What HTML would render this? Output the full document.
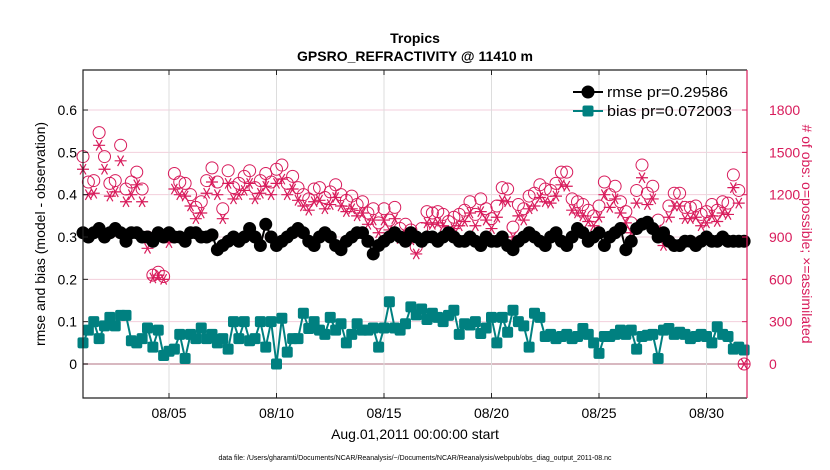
<!DOCTYPE html>
<html><head><meta charset="utf-8"><style>
html,body{margin:0;padding:0;background:#fff;}
svg{display:block;font-family:"Liberation Sans",Arial,sans-serif;}
</style></head><body>
<svg id="chart" width="830" height="470" viewBox="0 0 830 470">
<text x="415" y="43" text-anchor="middle" font-size="14" font-weight="bold">Tropics</text>
<text x="415" y="61" text-anchor="middle" font-size="14" font-weight="bold">GPSRO_REFRACTIVITY @ 11410 m</text>
<g id="grid"></g>
<g id="series"></g>
<g id="axes"></g>
<text transform="translate(45,234) rotate(-90)" text-anchor="middle" font-size="14">rmse and bias (model - observation)</text>
<text transform="translate(802,234) rotate(90)" text-anchor="middle" font-size="14" fill="#d81b5b"># of obs: o=possible; ×=assimilated</text>
<text x="415" y="439" text-anchor="middle" font-size="14">Aug.01,2011 00:00:00 start</text>
<text x="415" y="460" text-anchor="middle" font-size="7">data file: /Users/gharamti/Documents/NCAR/Reanalysis/~/Documents/NCAR/Reanalysis/webpub/obs_diag_output_2011-08.nc</text>
<g id="legend">
<g>
<line x1="573" y1="92" x2="603" y2="92" stroke="#000" stroke-width="2"/>
<circle cx="588" cy="92" r="6.5" fill="#000"/>
<text x="607" y="97" font-size="15" textLength="121" lengthAdjust="spacingAndGlyphs">rmse pr=0.29586</text></g>
<g>
<line x1="573" y1="111" x2="603" y2="111" stroke="#008080" stroke-width="2"/>
<rect x="582.5" y="105.5" width="11" height="11" rx="2" fill="#008080"/>
<text x="607" y="116" font-size="15" textLength="125" lengthAdjust="spacingAndGlyphs">bias pr=0.072003</text></g>
</g>
</svg>
<script>
const dayTicks=[4,9,14,19,24,29];
const dayLabels=["08/05","08/10","08/15","08/20","08/25","08/30"];
const leftTicks=[0,0.1,0.2,0.3,0.4,0.5,0.6];
const leftLabels=["0","0.1","0.2","0.3","0.4","0.5","0.6"];
const rightTicks=[0,300,600,900,1200,1500,1800];
const rmse=[0.31,0.30,0.31,0.32,0.30,0.31,0.32,0.31,0.29,0.31,0.31,0.30,0.30,0.29,0.31,0.30,0.31,0.30,0.30,0.29,0.31,0.31,0.30,0.30,0.305,0.27,0.28,0.29,0.30,0.29,0.30,0.32,0.30,
0.28,0.33,0.30,0.28,0.29,0.30,0.31,0.32,0.31,0.29,0.28,0.30,0.31,0.30,0.28,0.27,0.29,0.30,0.31,0.31,0.29,0.26,0.28,0.29,0.30,0.31,0.30,0.29,0.31,0.30,0.29,0.30,
0.30,0.29,0.30,0.31,0.30,0.29,0.29,0.30,0.29,0.28,0.30,0.29,0.29,0.30,0.28,0.27,0.29,0.30,0.31,0.30,0.29,0.28,0.30,0.31,0.29,0.28,0.30,0.32,0.31,0.29,0.30,0.31,0.28,
0.30,0.31,0.32,0.27,0.29,0.32,0.33,0.335,0.32,0.30,0.31,0.29,0.28,0.28,0.29,0.29,0.28,0.29,0.30,0.29,0.29,0.30,0.29,0.29,0.29,0.29];
const bias=[0.05,0.08,0.10,0.06,0.09,0.11,0.09,0.115,0.115,0.055,0.05,0.06,0.085,0.04,0.08,0.02,0.03,0.035,0.07,0.013,0.07,0.06,0.085,0.06,0.07,0.05,0.06,0.035,0.1,0.06,0.1,0.055,0.06,
0.1,0.04,0.1,0,0.108,0.028,0.06,0.06,0.12,0.084,0.1,0.08,0.07,0.11,0.08,0.095,0.05,0.07,0.095,0.08,0.08,0.085,0.04,0.085,0.147,0.085,0.08,0.095,0.135,0.116,0.13,0.105,
0.12,0.11,0.1,0.115,0.127,0.07,0.095,0.092,0.1,0.072,0.085,0.11,0.05,0.11,0.075,0.127,0.1,0.09,0.04,0.12,0.11,0.065,0.07,0.06,0.065,0.07,0.06,0.065,0.084,0.07,0.05,0.025,0.065,
0.065,0.07,0.08,0.07,0.08,0.035,0.065,0.068,0.07,0.013,0.08,0.084,0.07,0.075,0.07,0.06,0.065,0.07,0.065,0.05,0.088,0.07,0.065,0.035,0.04,0.033];
const possible=[1470,1290,1300,1640,1470,1280,1300,1550,1240,1290,1360,1240,900,630,650,620,920,1350,1290,1280,1200,1110,1150,1300,1390,1290,1100,1370,1250,1280,1330,1370,1250,
1300,1350,1290,1380,1410,1280,1330,1250,1200,1170,1240,1250,1180,1220,1270,1200,1160,1190,1130,1150,1070,1100,1000,1100,1020,1110,960,990,950,830,960,1080,
1070,1080,1060,1010,1040,1060,1090,1150,1060,1170,1100,1030,1120,1250,1240,970,1130,1100,1190,1210,1270,1240,1230,1280,1360,1360,1170,1150,1130,1090,1050,1120,1290,
1200,1260,1150,1080,1000,1230,1410,1210,1260,1020,910,1120,1210,1210,1110,1110,1120,1060,1080,1130,1090,1150,1140,1340,1230,0];
const assimilated=[1380,1200,1210,1550,1380,1190,1220,1440,1150,1200,1270,1150,820,610,630,600,860,1240,1200,1190,1120,1030,1070,1210,1290,1200,1030,1280,1170,1200,1230,1280,1170,
1210,1260,1200,1280,1310,1200,1240,1160,1120,1090,1150,1160,1100,1130,1180,1120,1080,1100,1050,1070,990,1020,930,1020,950,1030,890,920,880,780,890,1000,
990,1000,980,940,960,980,1010,1070,980,1080,1020,960,1040,1160,1150,900,1050,1020,1100,1120,1180,1150,1140,1190,1270,1260,1090,1070,1050,1010,980,1040,1200,
1110,1170,1070,1000,930,1140,1320,1130,1170,950,840,1040,1120,1120,1030,1030,1040,980,1000,1050,1010,1070,1060,1250,1140,0];

const X0=83,X1=747,Y0=70,Y1=398;
const xs=i=>X0+(i/4)*21.5;
const xd=d=>X0+d*21.5;
const yl=v=>364-v*423.3;
const yr=c=>364-c*0.1411;
const NS="http://www.w3.org/2000/svg";
function mk(tag,attrs,parent){const e=document.createElementNS(NS,tag);for(const k in attrs)e.setAttribute(k,attrs[k]);parent.appendChild(e);return e;}
const grid=document.getElementById('grid'),ser=document.getElementById('series'),ax=document.getElementById('axes');
leftTicks.forEach((v,k)=>{
  const l=mk('line',{x1:X0,x2:X1,y1:yl(v),y2:yl(v),stroke:v===0?'#d8b8c0':'#f3cfdc','stroke-width':v===0?2:1},grid);
  
  
  const t=mk('text',{x:X0-6,y:yl(v)+5,'text-anchor':'end','font-size':14},ax);t.textContent=leftLabels[k];
  
  
  mk('line',{x1:X0,x2:X0+5,y1:yl(v),y2:yl(v),stroke:'#222'},ax);
});
rightTicks.forEach(c=>{
  const t=mk('text',{x:X1+22,y:yr(c)+5,'text-anchor':'start','font-size':14,fill:'#d81b5b'},ax);t.textContent=String(c);
  
  
  mk('line',{x1:X1-5,x2:X1,y1:yr(c),y2:yr(c),stroke:'#d81b5b'},ax);
});
dayTicks.forEach((d,k)=>{
  const l=mk('line',{x1:xd(d),x2:xd(d),y1:Y0,y2:Y1,stroke:'#dddddd'},grid);
  
  
  mk('line',{x1:xd(d),x2:xd(d),y1:Y1,y2:Y1-5,stroke:'#222'},ax);
  mk('line',{x1:xd(d),x2:xd(d),y1:Y0,y2:Y0+5,stroke:'#222'},ax);
  const t=mk('text',{x:xd(d),y:418,'text-anchor':'middle','font-size':14},ax);t.textContent=dayLabels[k];
  
  
});
mk('path',{d:`M${X1},${Y0}H${X0}V${Y1}H${X1}`,fill:'none',stroke:'#222','stroke-width':1.2},ax);
mk('line',{x1:X1,x2:X1,y1:Y0,y2:Y1,stroke:'#d81b5b','stroke-width':1.2},ax);
possible.forEach((c,i)=>{
  const e=mk('circle',{cx:xs(i),cy:yr(c),r:6,fill:'none',stroke:'#d81b5b','stroke-width':1},ser);
  
  
});
assimilated.forEach((c,i)=>{
  const x=xs(i),y=yr(c),r=6;
  const p=`M${x-r},${y}H${x+r}M${x-r*0.5},${y-r*0.87}L${x+r*0.5},${y+r*0.87}M${x+r*0.5},${y-r*0.87}L${x-r*0.5},${y+r*0.87}`;
  const e=mk('path',{d:p,stroke:'#d81b5b','stroke-width':1.2,fill:'none'},ser);
  
  
});
mk('polyline',{points:rmse.map((v,i)=>xs(i)+','+yl(v)).join(' '),fill:'none',stroke:'#000','stroke-width':2},ser);
rmse.forEach((v,i)=>{
  const e=mk('circle',{cx:xs(i),cy:yl(v),r:6.5,fill:'#000'},ser);
  
  
});
mk('polyline',{points:bias.map((v,i)=>xs(i)+','+yl(v)).join(' '),fill:'none',stroke:'#008080','stroke-width':2},ser);
bias.forEach((v,i)=>{
  const e=mk('rect',{x:xs(i)-5.5,y:yl(v)-5.5,width:11,height:11,rx:2,fill:'#008080'},ser);
  
  
});
</script>
</body></html>
